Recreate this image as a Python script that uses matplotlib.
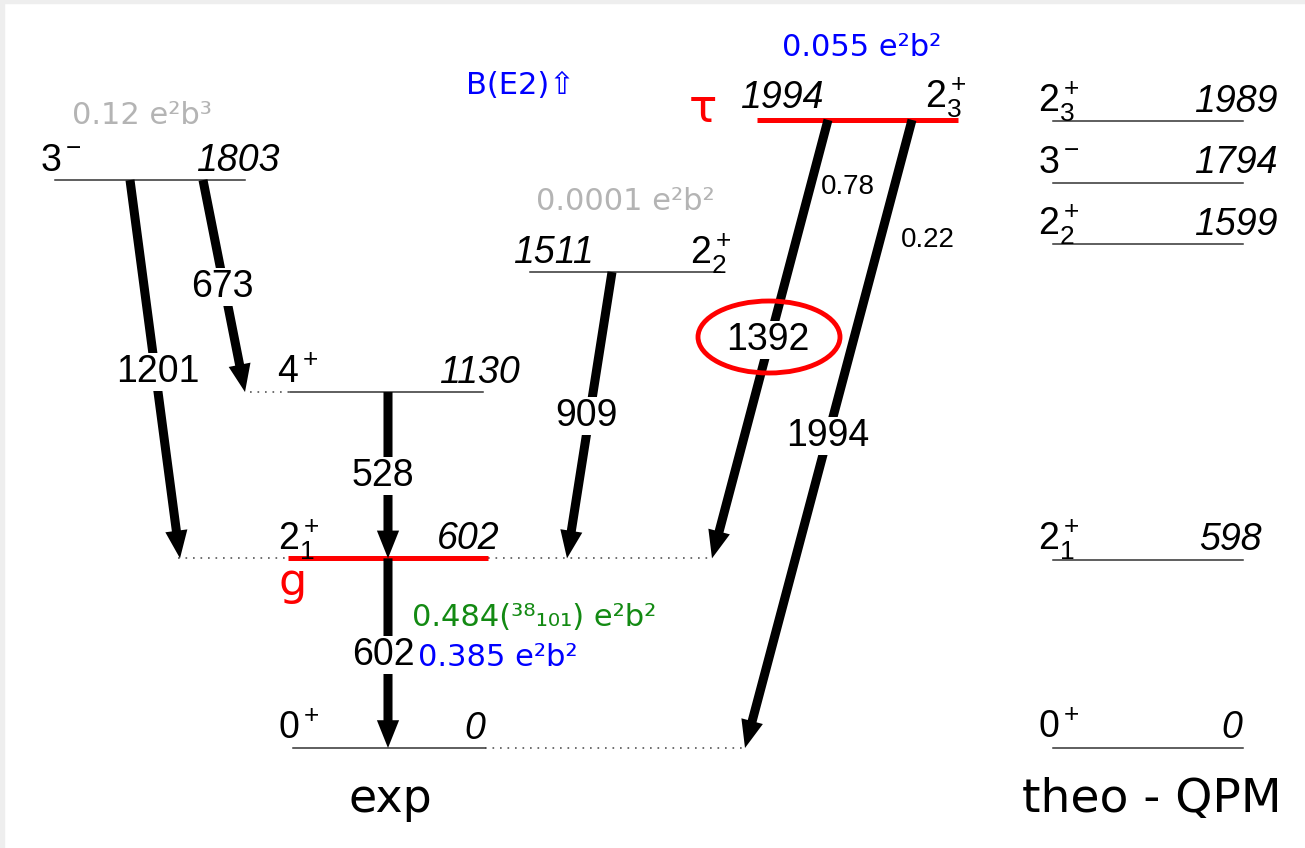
import matplotlib
matplotlib.use('Agg')
import matplotlib.pyplot as plt
from matplotlib.patches import Ellipse, Rectangle

plt.rcParams['font.family'] = ['Liberation Sans', 'DejaVu Sans']
plt.rcParams['mathtext.fontset'] = 'custom'
plt.rcParams['mathtext.rm'] = 'Liberation Sans'
plt.rcParams['mathtext.it'] = 'Liberation Sans:italic'
plt.rcParams['mathtext.default'] = 'regular'

# --- data (keV) ---
exp_energies = [0, 602, 1130, 1511, 1803, 1994]
exp_spins = ['0^+', '2^+_1', '4^+', '2^+_2', '3^-', '2^+_3']
exp_labels = ['0', '602', '1130', '1511', '1803', '1994']

theo_energies = [0, 598, 1599, 1794, 1989]
theo_spins = ['0^+', '2^+_1', '2^+_2', '3^-', '2^+_3']
theo_labels = ['0', '598', '1599', '1794', '1989']

gamma_labels = ['1201', '673', '528', '602', '909', '1392', '1994']
gamma_from = [1803, 1803, 1130, 602, 1511, 1994, 1994]
gamma_to = [602, 1130, 602, 0, 602, 602, 0]
branch_labels = ['0.78', '0.22']

# --- layout (pixels) ---
K = 0.315          # px per keV
Y0 = 748           # pixel row of E = 0
W, H = 1305, 848

def ey(py):
    return (Y0 - py) / K

# level: x0, x1, spin x, energy x, energy ha
exp_layout = {
    0:    (293, 485, 278, 485, 'right'),
    602:  (288, 488, 278, 500, 'right'),
    1130: (290, 483, 277, 520, 'right'),
    1511: (530, 720, 690, 513, 'left'),
    1803: (55, 245, 40, 280, 'right'),
    1994: (757, 958, 925, 740, 'left'),
}
red_levels = [602, 1994]
dotted = {0: [(485, 745)], 602: [(178, 288), (488, 710)], 1130: [(250, 290)]}

theo_x = (1053, 1243, 1038)
theo_right = {0: 1242, 598: 1262}

gamma_x = [(130, 180), (203, 245), (388, 388), (388, 388), (612, 567), (828, 712), (912, 745)]
gamma_lab_pos = [(158, 372), (222, 287), (383, 476), (383, 655), (586, 416), (768, 340), (828, 436)]
branch_pos = [(848, 187), (928, 240)]

fig = plt.figure(figsize=(W / 100, H / 100), dpi=100)
ax = fig.add_axes([0, 0, 1, 1])
ax.set_xlim(0, W)
ax.set_ylim(ey(H), ey(0))
ax.axis('off')

# light frame at left / top
fig.patches.append(Rectangle((0, 0), 4 / W, 1, transform=fig.transFigure, color='#eeeeee', zorder=0))
fig.patches.append(Rectangle((0, 1 - 3 / H), 1, 3 / H, transform=fig.transFigure, color='#eeeeee', zorder=0))

lvl_fs = 27

# experimental levels
for e, spin, lab in zip(exp_energies, exp_spins, exp_labels):
    x0, x1, sx, lx, lha = exp_layout[e]
    if e in red_levels:
        ax.plot([x0, x1], [e, e], color='red', lw=3.6, solid_capstyle='butt', zorder=3)
    else:
        ax.plot([x0, x1], [e, e], color='#333333', lw=1.1, zorder=2)
    for d0, d1 in dotted.get(e, []):
        ax.plot([d0, d1], [e, e], color='#555555', lw=1.2, ls=(0, (1, 3.5)), zorder=1)
    off = 12 if e == 1994 else 9
    ax.annotate(f'${spin}$', (sx, e), xytext=(0, off * 0.72), textcoords='offset points',
                ha='left', va='baseline', fontsize=lvl_fs)
    ax.annotate(lab, (lx, e), xytext=(0, off * 0.72), textcoords='offset points',
                ha=lha, va='baseline', fontsize=lvl_fs, style='italic')

# theory levels
tx0, tx1, tsx = theo_x
for e, spin, lab in zip(theo_energies, theo_spins, theo_labels):
    ax.plot([tx0, tx1], [e, e], color='#333333', lw=1.1)
    ax.annotate(f'${spin}$', (tsx, e), xytext=(0, 7), textcoords='offset points',
                ha='left', va='baseline', fontsize=lvl_fs)
    ax.annotate(lab, (theo_right.get(e, 1278), e), xytext=(0, 7), textcoords='offset points',
                ha='right', va='baseline', fontsize=lvl_fs, style='italic')

# gamma transitions
for (xa, xb), ei, ef in zip(gamma_x, gamma_from, gamma_to):
    ax.annotate('', xy=(xb, ef), xytext=(xa, ei),
                arrowprops=dict(arrowstyle='simple,head_length=2.0,head_width=1.6,tail_width=0.65',
                                mutation_scale=10, color='black', lw=0,
                                shrinkA=0, shrinkB=0), zorder=4)
for lab, (px, py) in zip(gamma_labels, gamma_lab_pos):
    ax.text(px, ey(py), lab, ha='center', va='center', fontsize=lvl_fs, zorder=5,
            bbox=dict(facecolor='white', edgecolor='none', pad=0.5))
for lab, (px, py) in zip(branch_labels, branch_pos):
    ax.text(px, ey(py), lab, ha='center', va='center', fontsize=20, zorder=5,
            bbox=dict(facecolor='white', edgecolor='none', pad=0.5))

# circled 1392
ax.add_patch(Ellipse((769, ey(337)), 142, 72 / K, fill=False, edgecolor='red', lw=3.5, zorder=6))

# B(E2) annotations
cfs = 22
ann = dict(family='DejaVu Sans', fontsize=cfs, ha='center', va='center')
ax.text(142, ey(115), '0.12 e²b³', color='#b4b4b4', **ann)
ax.text(520, ey(86), 'B(E2)⇧', color='#0000ff', **ann)
ax.text(625, ey(201), '0.0001 e²b²', color='#b4b4b4', **ann)
ax.text(862, ey(47), '0.055 e²b²', color='#0000ff', **ann)
ax.text(412, ey(617), '0.484(³⁸₁₀₁) e²b²', color='#138a13', family='DejaVu Sans',
        fontsize=cfs, ha='left', va='center')
ax.text(418, ey(657), '0.385 e²b²', color='#0000ff', family='DejaVu Sans',
        fontsize=cfs, ha='left', va='center')

# lifetime / g-factor markers
ax.text(703, ey(110), 'τ', color='red', fontsize=34, family='DejaVu Sans', ha='center', va='center')
ax.text(293, ey(583), 'g', color='red', fontsize=32, family='DejaVu Sans', ha='center', va='center')

# column titles
ax.text(390, ey(800), 'exp', fontsize=33, family='DejaVu Sans', ha='center', va='center')
ax.text(1152, ey(800), 'theo - QPM', fontsize=34, family='DejaVu Sans', ha='center', va='center')

fig.savefig('out.png', dpi=100, facecolor='white')
